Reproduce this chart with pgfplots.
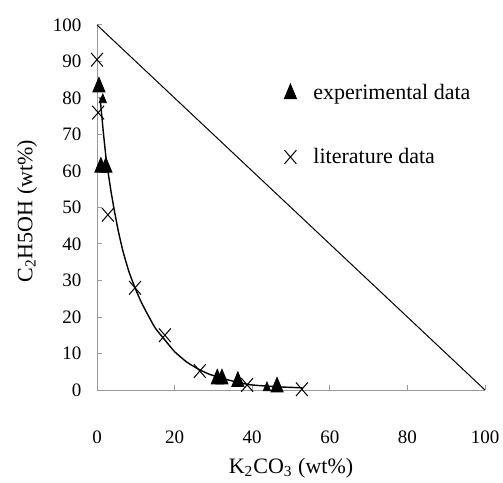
\documentclass[border=0pt]{standalone}
\usepackage{fontspec}
\setmainfont{Liberation Serif}
\usepackage{pgfplots}
\pgfplotsset{compat=1.18}
\begin{document}
\begin{tikzpicture}
\path[use as bounding box] (0,0) rectangle (251.5pt,241pt);
\begin{axis}[
  at={(48.5pt,46pt)}, anchor=south west,
  width=194pt, height=182.5pt, scale only axis,
  xmin=0, xmax=100, ymin=0, ymax=100,
  clip=false,
  axis lines*=left,
  axis line style={draw=black!40, line width=0.5pt},
  every tick/.style={draw=black!40, line width=0.5pt},
  tick align=inside, major tick length=2.5pt,
  xtick={0,20,40,60,80,100},
  ytick={0,10,20,30,40,50,60,70,80,90,100},
  /pgf/number format/assume math mode=true,
  tick label style={font=\fontsize{9.5}{11}\selectfont},
  yticklabel style={xshift=-4.3pt},
  xticklabel style={yshift=-17pt},
  xlabel={K\textsubscript{2}CO\textsubscript{3} (wt\%)},
  ylabel={C\textsubscript{2}H5OH (wt\%)},
  label style={font=\fontsize{11}{13}\selectfont},
  xlabel style={at={(axis description cs:0.5,-0.214)}, anchor=center},
  ylabel style={at={(axis description cs:-0.18,0.49)}, anchor=center},
  legend style={at={(axis cs:46.4,72.5)}, anchor=west, draw=none, fill=none,
    font=\fontsize{11}{13}\selectfont, row sep=18.5pt},
  legend cell align=left,
  legend image code/.code={%
    \draw[mark repeat=2,mark phase=2,#1] plot coordinates {(0pt,0pt) (0pt,0pt) (0pt,0pt)};
    \path[draw=none,fill=none] (-3.5pt,-1pt) rectangle (9.5pt,1pt);},
]
\addplot[black, line width=0.5pt, forget plot] coordinates {(0,100) (100,0)};
\addplot[black, line width=0.7pt, smooth, tension=0.3, forget plot] coordinates {
(0.8,80) (1.6,71) (2.4,63) (3.6,54.5) (4.5,49) (5.5,43.5) (6.7,38) (8.2,32.5) (9.8,28)
(11.3,24.3) (12.9,21) (15,17) (17.5,13.7) (20,10.5) (23.2,7.6) (26.5,5.5) (29,4.3)
(31.7,3.4) (34,2.7) (36,2.2) (39,1.5) (42,1.2) (45,1.0) (48,0.8) (53,0.6)};
\addplot[only marks, mark=triangle*, mark size=3.9pt, black,
  mark options={xscale=0.9, yscale=1.25, fill=black}] coordinates {
(0.5,83) (1,61) (2.3,61) (31,3.0) (32.2,3.0) (36.3,2.3) (46.4,0.8)};
\addlegendentry{experimental data}
\addplot[only marks, mark=x, mark size=4.2pt, black,
  mark options={yscale=1.15, line width=0.5pt}] coordinates {
(0,90.5) (0.3,76) (2.8,48) (9.8,28) (17.5,15) (26.5,5.2) (38.7,1.4) (52.8,0.2)};
\addlegendentry{literature data}
\addplot[only marks, mark=triangle*, mark size=2.3pt, black,
  mark options={xscale=0.9, yscale=1.25, fill=black}, forget plot] coordinates {
(1.5,79.5) (43.8,0.6)};
\end{axis}
\end{tikzpicture}
\end{document}
